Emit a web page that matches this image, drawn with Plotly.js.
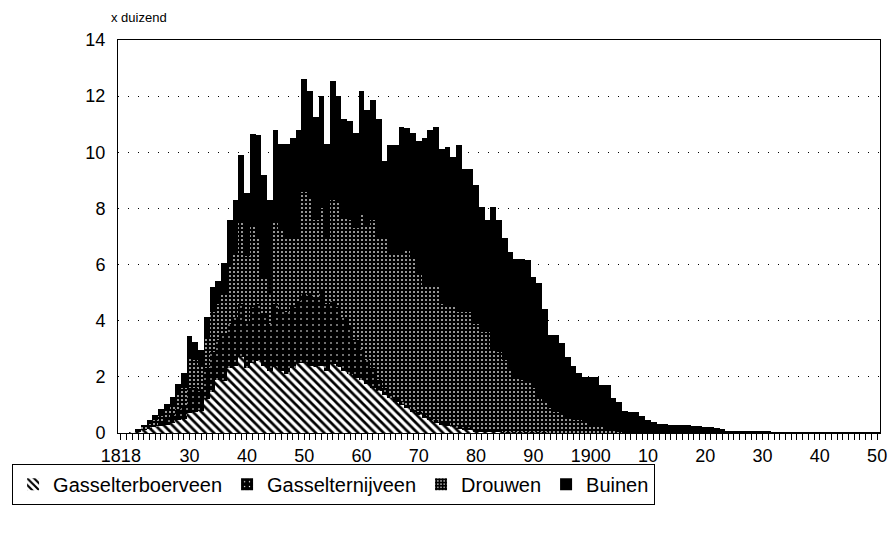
<!DOCTYPE html>
<html>
<head>
<meta charset="utf-8">
<script src="https://cdn.plot.ly/plotly-3.0.1.min.js"></script>
<style>html,body{margin:0;padding:0;background:#fff;}#chart{width:896px;height:551px;}</style>
</head>
<body>
<div id="chart"></div>
<script>
// Years 1818..1950 (categories)
const years = [];
for (let y = 1818; y <= 1950; y++) years.push(y);

const tickYears = [1818, 1830, 1840, 1850, 1860, 1870, 1880, 1890, 1900, 1910, 1920, 1930, 1940, 1950];
const tickLabels = ["1818", "30", "40", "50", "60", "70", "80", "90", "1900", "10", "20", "30", "40", "50"];

// x duizend
const gasselterboerveen = [
  0,0,0.02,0.05,0.1,0.15,0.2,0.25,0.3,0.35,
  0.45,0.5,0.7,0.75,0.8,1.2,1.45,1.9,1.85,2.3,
  2.4,2.7,2.3,2.5,2.55,2.4,2.2,2.35,2.2,2.1,
  2.3,2.5,2.5,2.4,2.35,2.4,2.2,2.45,2.35,2.2,
  2.1,1.95,1.9,1.75,1.6,1.5,1.35,1.25,1.1,1.0,
  0.9,0.75,0.65,0.55,0.45,0.35,0.3,0.25,0.2,0.15,
  0.1,0.1,0.05,0.03,0.03,0.03,0.03,0,0,0,
  0,0,0,0,0,0,0,0,0,0,
  0,0,0,0,0,0,0,0,0,0,
  0,0,0,0,0,0,0,0,0,0,
  0,0,0,0,0,0,0,0,0,0,
  0,0,0,0,0,0,0,0,0,0,
  0,0,0,0,0,0,0,0,0,0,
  0,0,0
];
const gasselternijveen = [
  0,0,0.01,0.03,0.05,0.07,0.1,0.15,0.2,0.3,
  0.4,0.5,0.9,0.85,0.7,1.1,1.45,1.4,1.65,1.6,
  1.7,1.9,1.7,2.0,2.05,1.8,1.7,2.25,2.2,2.2,
  2.2,2.2,2.5,2.5,2.45,2.7,2.4,2.25,2.15,1.9,
  1.7,1.35,1.1,0.85,0.7,0.4,0.25,0.15,0.15,0.1,
  0.1,0.1,0.1,0.1,0.1,0.1,0.1,0.1,0.1,0.1,
  0.1,0.1,0.1,0.07,0.07,0.05,0.05,0.05,0.05,0.05,
  0.03,0.03,0.03,0.02,0.02,0,0,0,0,0,
  0,0,0,0,0,0,0,0,0,0,
  0,0,0,0,0,0,0,0,0,0,
  0,0,0,0,0,0,0,0,0,0,
  0,0,0,0,0,0,0,0,0,0,
  0,0,0,0,0,0,0,0,0,0,
  0,0,0
];
const drouwen = [
  0,0,0.01,0.02,0.07,0.11,0.18,0.22,0.28,0.35,
  0.5,0.6,1.1,1.0,0.9,1.1,1.4,1.3,1.5,2.1,
  2.3,2.9,2.3,2.9,2.4,1.3,1.0,2.9,2.8,2.6,
  2.4,2.3,3.6,3.5,2.8,2.9,2.4,3.6,3.7,3.6,
  3.8,4.0,4.8,4.8,5.3,5.1,5.3,5.0,5.15,5.3,
  5.5,5.35,4.95,4.55,4.65,4.75,4.2,4.15,4.2,4.05,
  4.1,4.1,3.75,3.5,3.5,2.92,2.82,2.55,2.15,1.95,
  1.87,1.77,1.57,1.18,1.08,0.9,0.75,0.7,0.5,0.45,
  0.45,0.4,0.3,0.3,0.25,0.15,0.1,0.05,0,0,
  0,0,0,0,0,0,0,0,0,0,
  0,0,0,0,0,0,0,0,0,0,
  0,0,0,0,0,0,0,0,0,0,
  0,0,0,0,0,0,0,0,0,0,
  0,0,0
];
const buinen = [
  0,0,0.01,0.05,0.08,0.12,0.17,0.23,0.27,0.3,
  0.4,0.55,0.75,0.65,0.55,0.75,0.9,0.8,1.05,1.6,
  1.9,2.4,2.25,3.25,3.6,3.7,3.4,3.3,3.1,3.4,
  3.6,3.8,4.0,3.8,3.65,4.0,3.3,4.25,3.8,3.5,
  3.5,3.4,4.4,4.1,4.25,4.2,2.8,3.85,3.85,4.5,
  4.35,4.5,4.7,5.3,5.6,5.7,5.5,5.7,5.35,5.95,
  5.1,5.1,4.95,4.45,4.0,5.05,4.7,4.35,4.25,4.2,
  4.3,4.35,3.95,4.15,3.3,2.6,2.75,2.5,2.2,1.95,
  1.7,1.6,1.7,1.7,1.45,1.55,1.15,1.05,0.8,0.75,
  0.75,0.6,0.45,0.4,0.33,0.32,0.3,0.3,0.3,0.27,
  0.25,0.25,0.2,0.2,0.18,0.13,0.08,0.08,0.08,0.08,
  0.08,0.08,0.08,0.08,0.05,0.05,0.05,0.05,0.05,0.05,
  0.05,0.05,0.05,0.05,0.05,0.05,0.05,0.05,0.05,0.05,
  0.05,0.05,0.05
];

const FONT = "Liberation Sans, Arial, Helvetica, sans-serif";

function barTrace(name, vals, marker) {
  return {
    type: "bar", name: name, x: years, y: vals,
    marker: Object.assign({line: {width: 0}}, marker),
    hoverinfo: "x+y+name"
  };
}

const traces = [
  barTrace("Gasselterboerveen", gasselterboerveen, {
    color: "#ffffff",
    pattern: {shape: "\\", fgcolor: "#000000", bgcolor: "#ffffff", size: 6, solidity: 0.45, fillmode: "replace"}
  }),
  barTrace("Gasselternijveen", gasselternijveen, {
    color: "#000000",
    pattern: {shape: ".", fgcolor: "#ffffff", bgcolor: "#000000", size: 6, solidity: 0.06, fillmode: "replace"}
  }),
  barTrace("Drouwen", drouwen, {
    color: "#ffffff",
    pattern: {shape: "+", fgcolor: "#000000", bgcolor: "#ffffff", size: 4, solidity: 0.85, fillmode: "replace"}
  }),
  barTrace("Buinen", buinen, {color: "#000000"})
];

const layout = {
  width: 896, height: 551,
  margin: {l: 116, r: 16, t: 40, b: 118},
  paper_bgcolor: "#ffffff", plot_bgcolor: "#ffffff",
  barmode: "stack", bargap: 0,
  font: {family: FONT, color: "#000000", size: 18},
  showlegend: true,
  legend: {
    orientation: "h", traceorder: "normal",
    x: -0.139, xanchor: "left", y: -0.078, yanchor: "top",
    bordercolor: "#000000", borderwidth: 1, bgcolor: "#ffffff",
    font: {family: FONT, size: 20, color: "#000000"},
    itemwidth: 30, itemclick: false, itemdoubleclick: false
  },
  xaxis: {
    range: [1817.5, 1950.5],
    tickmode: "array", tickvals: tickYears, ticktext: tickLabels,
    ticks: "outside", ticklen: 6, tickcolor: "#000000", tickwidth: 1,
    minor: {dtick: 1, tick0: 1818, ticks: "outside", ticklen: 6, tickcolor: "#000000", tickwidth: 1, showgrid: false},
    showline: true, linecolor: "#000000", linewidth: 1, mirror: true,
    showgrid: false, zeroline: false,
    tickfont: {family: FONT, size: 18, color: "#000000"}
  },
  yaxis: {
    range: [0, 14], tickmode: "array", tickvals: [0, 2, 4, 6, 8, 10, 12, 14],
    ticks: "", showline: true, linecolor: "#000000", linewidth: 1, mirror: true,
    ticklabelstandoff: 8,
    showgrid: true, gridcolor: "#000000", gridwidth: 1, griddash: "1px,9px",
    zeroline: false,
    tickfont: {family: FONT, size: 18, color: "#000000"}
  },
  annotations: [{
    text: "x duizend", xref: "paper", yref: "paper",
    x: -0.012, y: 1.056, xanchor: "left", yanchor: "middle",
    showarrow: false, font: {family: FONT, size: 13, color: "#000000"}
  }]
};

Plotly.newPlot("chart", traces, layout, {displayModeBar: false, staticPlot: true});
</script>
</body>
</html>
